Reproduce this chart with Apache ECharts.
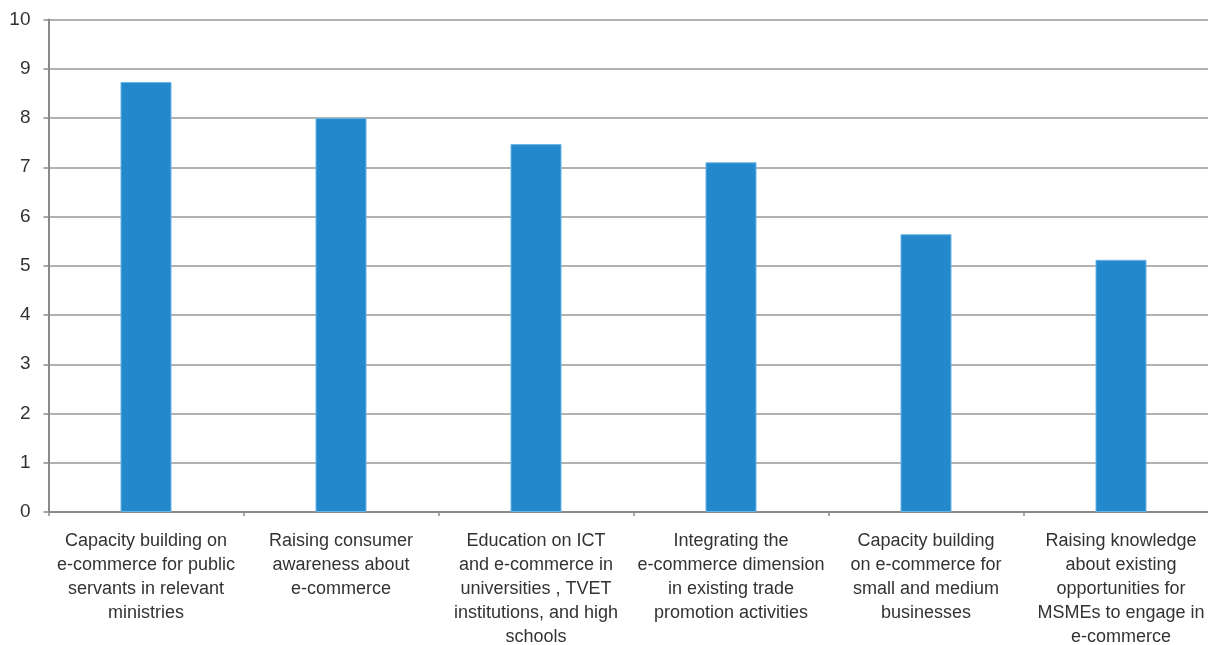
<!DOCTYPE html>
<html>
<head>
<meta charset="utf-8">
<script src="https://cdn.jsdelivr.net/npm/echarts@6/dist/echarts.min.js"></script>
<style>
html,body{margin:0;padding:0;background:#fff;}
#c{width:1208px;height:645px;}
</style>
</head>
<body>
<div id="c"></div>
<script>
const categories = [
  "Capacity building on\ne-commerce for public\nservants in relevant\nministries",
  "Raising consumer\nawareness about\ne-commerce",
  "Education on ICT\nand e-commerce in\nuniversities , TVET\ninstitutions, and high\nschools",
  "Integrating the\ne-commerce dimension\nin existing trade\npromotion activities",
  "Capacity building\non e-commerce for\nsmall and medium\nbusinesses",
  "Raising knowledge\nabout existing\nopportunities for\nMSMEs to engage in\ne-commerce"
];
const values = [8.73, 8.0, 7.47, 7.1, 5.64, 5.12];
const yTicks = [0, 10, 1];

const font = "'Liberation Sans Narrow', 'Liberation Sans', sans-serif";
const chart = echarts.init(document.getElementById('c'), null, {renderer: 'canvas'});
chart.setOption({
  animation: false,
  grid: {left: 48.5, top: 19.5, width: 1170, height: 492.5, containLabel: false, outerBoundsMode: 'none'},
  xAxis: {
    type: 'category',
    data: categories,
    axisLine: {show: true, lineStyle: {color: '#8a8a8a', width: 2}},
    axisTick: {show: true, alignWithLabel: false, length: 4, lineStyle: {color: '#8a8a8a', width: 1.5}},
    axisLabel: {
      interval: 0, color: '#333', fontFamily: font, fontSize: 18, lineHeight: 24,
      margin: 17, align: 'center'
    }
  },
  yAxis: {
    type: 'value',
    min: yTicks[0], max: yTicks[1], interval: yTicks[2],
    axisLine: {show: true, lineStyle: {color: '#8a8a8a', width: 2}},
    axisTick: {show: true, length: 5, lineStyle: {color: '#8a8a8a', width: 1.5}},
    axisLabel: {color: '#333', fontFamily: font, fontSize: 19, margin: 18, align: 'right'},
    splitLine: {show: true, lineStyle: {color: '#999', width: 1.5}}
  },
  series: [{
    type: 'bar',
    data: values,
    barWidth: 51,
    itemStyle: {color: '#2389cc', borderColor: '#6ab4e4', borderWidth: 1}
  }]
});
</script>
</body>
</html>
